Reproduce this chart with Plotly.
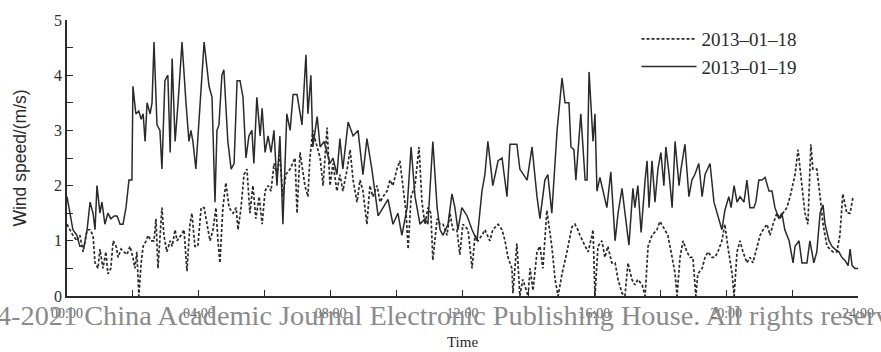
import plotly.graph_objects as go

# 2013-01-19 (solid) : time in hours, wind speed m/s
t19 = [0.00,0.09,0.18,0.30,0.39,0.52,0.61,0.70,0.79,0.85,0.91,1.00,1.06,1.15,1.24,1.33,1.43,1.52,1.61,1.70,
       1.79,1.88,1.97,2.00,2.09,2.18,2.25,2.31,2.37,2.43,2.52,2.58,2.64,2.73,2.82,2.88,2.97,3.06,3.13,3.19,
       3.28,3.37,3.49,3.61,3.70,3.76,3.82,3.91,4.03,4.16,4.31,4.40,4.49,4.55,4.61,4.70,4.76,4.88,4.98,5.07,
       5.16,5.25,5.34,5.43,5.52,5.61,5.67,5.76,5.86,5.92,6.01,6.10,6.19,6.28,6.37,6.46,6.55,6.67,6.77,6.86,
       6.98,7.13,7.25,7.31,7.40,7.46,7.59,7.68,7.80,7.89,7.98,8.07,8.19,8.28,8.37,8.53,8.68,8.83,8.98,9.10,
       9.25,9.44,9.59,9.74,9.89,10.04,10.16,10.32,10.44,10.56,10.71,10.86,10.95,11.10,11.23,11.32,11.41,11.56,11.68,11.77,
       11.86,11.98,12.14,12.29,12.44,12.59,12.68,12.77,12.92,13.08,13.20,13.35,13.44,13.65,13.74,13.96,14.11,14.26,14.35,14.50,
       14.59,14.71,14.87,15.02,15.11,15.23,15.29,15.38,15.44,15.59,15.72,15.78,15.84,15.96,16.02,16.08,16.17,16.29,16.38,16.50,
       16.63,16.72,16.84,16.93,17.05,17.17,17.23,17.32,17.42,17.54,17.60,17.66,17.75,17.84,17.93,18.02,18.11,18.17,18.27,18.36,
       18.45,18.57,18.63,18.75,18.87,18.96,19.05,19.17,19.27,19.36,19.51,19.63,19.72,19.87,19.96,20.08,20.15,20.24,20.33,20.42,
       20.54,20.63,20.72,20.84,20.90,20.99,21.09,21.18,21.30,21.39,21.48,21.60,21.69,21.78,21.91,22.03,22.09,22.21,22.30,22.45,
       22.54,22.66,22.75,22.85,22.94,23.00,23.12,23.21,23.30,23.42,23.51,23.60,23.70,23.76,23.82,23.91,24.00]
v19 = [1.8,1.5,1.2,1.1,0.9,0.9,1.2,1.7,1.5,1.2,2.0,1.5,1.7,1.3,1.5,1.4,1.45,1.45,1.3,1.3,
       1.6,2.1,2.1,3.8,3.3,3.35,3.2,3.3,2.8,3.5,3.3,3.5,4.6,3.1,3.0,2.3,3.9,4.0,2.6,4.3,
       2.8,3.5,4.6,3.5,2.8,3.0,2.8,2.3,3.5,4.6,3.8,3.6,1.7,3.0,3.1,4.0,4.1,2.8,2.3,2.4,
       3.9,3.9,3.6,2.5,2.9,3.0,2.4,3.6,2.9,3.4,2.6,2.9,2.6,3.0,2.0,2.9,1.3,3.3,3.0,3.65,
       3.65,3.1,4.37,3.3,4.0,2.7,3.25,2.7,2.8,2.6,2.4,2.5,2.2,2.85,2.3,3.15,2.9,3.0,2.2,2.85,
       2.3,1.45,1.6,1.75,1.3,1.5,1.1,1.6,2.7,1.8,1.3,1.4,1.3,2.8,1.6,1.2,1.1,1.3,1.85,1.6,
       1.2,1.6,1.45,1.2,1.0,1.9,2.2,2.8,2.0,2.45,2.5,1.8,2.75,2.75,2.3,2.1,2.7,1.8,1.4,2.1,
       2.2,1.5,3.0,3.95,3.5,3.5,2.7,2.65,2.1,3.3,2.1,2.1,4.06,2.8,3.3,1.9,2.15,1.8,1.6,2.25,
       1.0,1.5,1.95,1.5,0.92,1.95,1.6,2.0,1.15,2.1,2.45,1.6,2.45,1.7,2.3,2.6,2.0,2.7,2.2,1.6,
       2.8,2.0,2.3,2.75,1.8,2.1,2.2,2.4,1.8,2.2,2.4,1.7,1.5,1.2,1.55,1.8,1.6,2.0,1.7,1.8,
       1.7,2.1,1.6,1.6,1.7,2.1,2.1,2.15,1.9,1.9,1.6,1.4,1.5,1.2,1.0,0.6,0.9,1.0,0.6,0.6,
       1.0,0.6,0.8,1.5,1.65,1.3,1.0,0.9,0.85,0.8,0.7,0.65,0.55,0.85,0.55,0.5,0.5]

# 2013-01-18 (dashed)
t18 = [0.00,0.09,0.18,0.30,0.39,0.49,0.61,0.70,0.79,0.85,0.94,1.00,1.09,1.18,1.24,1.33,1.40,1.49,1.55,1.64,
       1.73,1.82,1.91,2.00,2.06,2.12,2.18,2.25,2.31,2.40,2.46,2.55,2.64,2.70,2.76,2.82,2.88,2.94,3.03,3.13,
       3.19,3.28,3.34,3.46,3.55,3.64,3.73,3.79,3.88,3.97,4.07,4.16,4.25,4.34,4.43,4.52,4.58,4.64,4.73,4.82,
       4.92,5.04,5.13,5.19,5.28,5.37,5.46,5.55,5.64,5.73,5.83,5.92,6.01,6.10,6.19,6.28,6.37,6.46,6.55,6.64,
       6.77,6.92,6.98,7.07,7.22,7.31,7.37,7.46,7.59,7.68,7.77,7.89,7.98,8.07,8.19,8.28,8.37,8.50,8.59,8.68,
       8.80,8.89,8.98,9.10,9.19,9.28,9.41,9.50,9.59,9.71,9.80,9.89,10.01,10.10,10.19,10.29,10.35,10.44,10.56,10.68,
       10.77,10.86,10.95,11.04,11.10,11.23,11.32,11.41,11.53,11.62,11.71,11.83,11.92,12.01,12.17,12.29,12.38,12.47,12.59,12.68,
       12.83,12.92,13.08,13.20,13.29,13.38,13.50,13.53,13.65,13.74,13.83,13.99,14.05,14.14,14.26,14.35,14.44,14.56,14.71,14.81,
       14.90,15.02,15.17,15.32,15.41,15.50,15.56,15.72,15.81,15.93,15.96,16.02,16.11,16.23,16.32,16.41,16.53,16.63,16.72,16.84,
       16.93,17.02,17.14,17.23,17.32,17.45,17.54,17.63,17.75,17.90,17.99,18.14,18.23,18.36,18.45,18.51,18.60,18.69,18.81,18.90,
       18.99,19.08,19.14,19.27,19.36,19.45,19.57,19.66,19.75,19.87,19.96,20.05,20.18,20.24,20.33,20.42,20.51,20.63,20.72,20.81,
       20.93,21.03,21.12,21.24,21.33,21.42,21.54,21.63,21.72,21.84,21.94,22.09,22.18,22.30,22.39,22.48,22.57,22.63,22.75,22.85,
       22.94,23.06,23.15,23.24,23.36,23.45,23.54,23.66,23.76,23.85]
v18 = [1.3,1.2,1.1,1.0,1.1,0.8,1.2,1.2,1.1,0.6,0.5,0.85,0.5,0.8,0.4,0.5,1.0,0.9,0.7,0.85,
       0.8,0.75,0.9,0.7,0.5,0.8,0.0,0.6,0.9,1.0,1.1,1.0,1.0,1.4,0.5,1.0,1.6,1.1,0.8,1.0,
       0.9,1.2,1.0,1.1,1.2,0.45,1.3,1.5,0.9,0.9,1.6,1.6,1.3,1.0,1.2,1.6,1.0,0.6,1.6,2.05,
       1.6,1.5,1.6,1.2,1.6,2.2,2.3,1.5,2.0,1.4,1.8,1.3,1.9,2.0,1.9,2.4,2.2,2.55,1.8,2.2,
       2.3,2.5,1.5,2.6,2.0,1.8,2.5,3.0,2.7,2.5,2.0,3.05,2.0,2.4,1.9,2.2,1.9,2.3,2.65,2.1,
       1.7,2.1,1.9,1.3,2.0,1.8,2.0,1.7,1.8,1.9,2.1,2.0,2.3,2.45,2.0,1.5,0.85,1.8,2.0,2.7,
       1.7,1.3,1.6,1.5,0.65,1.4,1.3,1.3,1.1,1.5,1.2,1.2,0.75,1.3,1.2,0.5,1.1,1.0,1.1,1.2,
       1.0,1.2,1.3,1.2,1.0,0.7,0.5,0.05,0.95,0.0,0.3,0.0,0.5,0.1,0.8,0.9,0.5,1.55,0.9,0.3,
       0.0,0.4,0.8,1.25,1.3,1.2,1.1,0.9,0.8,1.1,1.2,0.0,0.9,1.0,0.7,0.9,0.6,0.6,0.3,0.05,
       0.0,0.6,0.3,0.2,0.3,0.2,0.0,0.9,1.1,1.2,1.35,1.2,1.1,0.7,0.4,0.0,0.7,1.0,0.8,0.7,
       0.7,0.0,0.4,0.5,0.7,0.8,0.7,0.7,0.8,1.0,1.3,0.9,0.4,0.0,0.8,1.0,0.8,0.6,0.7,0.6,
       0.9,1.1,1.2,1.3,1.1,1.3,1.5,1.4,1.5,1.6,1.8,2.2,2.65,2.0,1.5,1.3,2.75,2.3,2.3,1.8,
       1.3,0.9,0.85,0.8,0.8,1.1,1.85,1.5,1.5,1.8]

x_tickvals = [0, 4, 8, 12, 16, 20, 24]
x_ticktext = ["00:00", "04:00", "08:00", "12:00", "16:00", "20:00", "24:00"]
y_tickvals = [0, 1, 2, 3, 4, 5]

ink = "#2a2a2a"

fig = go.Figure()
fig.add_trace(go.Scatter(x=t18, y=v18, mode="lines", name="2013\u201301\u201318",
                         legendgroup="a",
                         line=dict(color=ink, width=1.7, dash="3px,2px")))
fig.add_trace(go.Scatter(x=t19, y=v19, mode="lines", name="2013\u201301\u201319",
                         legendgroup="b",
                         line=dict(color=ink, width=1.5)))

fig.update_layout(
    width=881, height=352,
    margin=dict(l=67, r=23, t=20, b=56),
    paper_bgcolor="white", plot_bgcolor="white",
    showlegend=True,
    legend=dict(x=0.72, y=1.0, xanchor="left", yanchor="top",
                bgcolor="rgba(0,0,0,0)", itemwidth=55, tracegroupgap=0,
                font=dict(family="Liberation Serif", size=19, color=ink)),
    xaxis=dict(range=[0, 24], tickvals=x_tickvals, ticktext=x_ticktext, automargin=False,
               showgrid=False, zeroline=False, showline=True, linecolor=ink, linewidth=1.5,
               ticks="inside", ticklen=6, tickcolor=ink, tickwidth=1.2,
               minor=dict(dtick=2, ticks="inside", ticklen=6, tickcolor=ink, tickwidth=1.2),
               tickfont=dict(family="Liberation Serif", size=14, color="#666"),
               ticklabelstandoff=3,
               title=dict(text="Time", font=dict(family="Liberation Serif", size=15, color=ink), standoff=17)),
    yaxis=dict(range=[0, 5], tickvals=y_tickvals, automargin=False,
               showgrid=False, zeroline=False, showline=True, linecolor=ink, linewidth=1.5,
               ticks="inside", ticklen=6, tickcolor=ink, tickwidth=1.2,
               minor=dict(dtick=0.5, ticks="inside", ticklen=6, tickcolor=ink, tickwidth=1.2),
               tickfont=dict(family="Liberation Serif", size=16, color=ink),
               title=dict(text="Wind speed/(m/s)", font=dict(family="Liberation Sans", size=17.5, color=ink), standoff=23)),
)

fig.add_annotation(text="\u00a91994-2021 China Academic Journal Electronic Publishing House. All rights reserved.",
                   xref="paper", yref="paper", x=-0.1719, y=-0.07, xanchor="left", yanchor="middle",
                   showarrow=False, font=dict(family="Liberation Serif", size=28.3, color="#8a8a8a"))

fig.write_html("out.html")
